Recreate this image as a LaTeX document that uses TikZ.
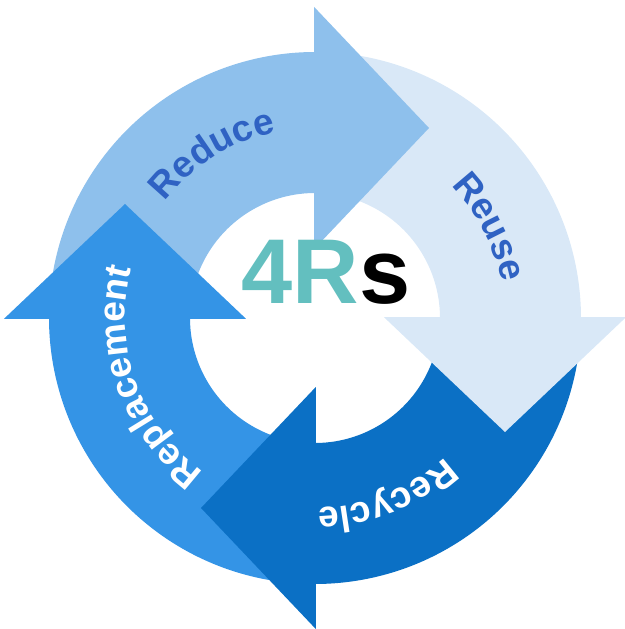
\documentclass[tikz,border=0pt]{standalone}
\usepackage{fontspec}
\setmainfont{Liberation Sans}
\usepackage{tikz}
\usetikzlibrary{calc,decorations.text}
\definecolor{rs-reduce}{HTML}{8EC0EC}
\definecolor{rs-reuse}{HTML}{D9E8F7}
\definecolor{rs-recycle}{HTML}{0B70C5}
\definecolor{rs-replace}{HTML}{3494E6}
\definecolor{rs-label}{HTML}{2F62C3}
\definecolor{rs-teal}{HTML}{63BFBF}
\newcommand{\lblfont}{\fontsize{37}{37}\selectfont\bfseries}
\tikzset{
    arclbl/.style={decorate, decoration={text along path, text align=center, text color=#1}},
}
\begin{document}
\begin{tikzpicture}[x=1pt, y=1pt]
    \useasboundingbox (-315,-311) rectangle (309,318);
    % ring bodies
    \fill[rs-reduce] (180:266) arc[start angle=180, end angle=89.5, radius=266] -- (89.5:125) arc[start angle=89.5, end angle=180, radius=125] -- cycle;
    \fill[rs-reuse] (90:266) arc[start angle=90, end angle=-0.5, radius=266] -- (-0.5:125) arc[start angle=-0.5, end angle=90, radius=125] -- cycle;
    \fill[rs-recycle] (0:266) arc[start angle=0, end angle=-90.5, radius=266] -- (-90.5:125) arc[start angle=-90.5, end angle=0, radius=125] -- cycle;
    \fill[rs-replace] (-90:266) arc[start angle=-90, end angle=-180.5, radius=266] -- (179.5:125) arc[start angle=179.5, end angle=270, radius=125] -- cycle;
    % arrow heads
    \fill[rs-reduce] (-0.8,69) -- (-0.8,311) -- (114,190) -- cycle;
    \fill[rs-reuse] (69,0.8) -- (311,0.8) -- (190,-114) -- cycle;
    \fill[rs-recycle] (0.8,-69) -- (0.8,-311) -- (-114,-190) -- cycle;
    \fill[rs-replace] (-69,-0.8) -- (-311,-0.8) -- (-190,114) -- cycle;
    % labels
    \path[arclbl=rs-label, decoration={text={|\lblfont|Reduce}}] (182:190) arc[start angle=182, end angle=62, radius=190];
    \path[arclbl=rs-label, decoration={text={|\lblfont|Reuse}}] (87.5:190) arc[start angle=87.5, end angle=-32.5, radius=190];
    \path[arclbl=white, decoration={text={|\lblfont|Recycle}}] (-8:190) arc[start angle=-8, end angle=-128, radius=190];
    \path[arclbl=white, decoration={text={|\lblfont|Replacement}}] (259.5:190) arc[start angle=259.5, end angle=139.5, radius=190];
    \node[font=\fontsize{92}{92}\selectfont\bfseries, inner sep=0pt, anchor=base] (title) at (11,14) {\textcolor{rs-teal}{4R}s};
\end{tikzpicture}
\end{document}
